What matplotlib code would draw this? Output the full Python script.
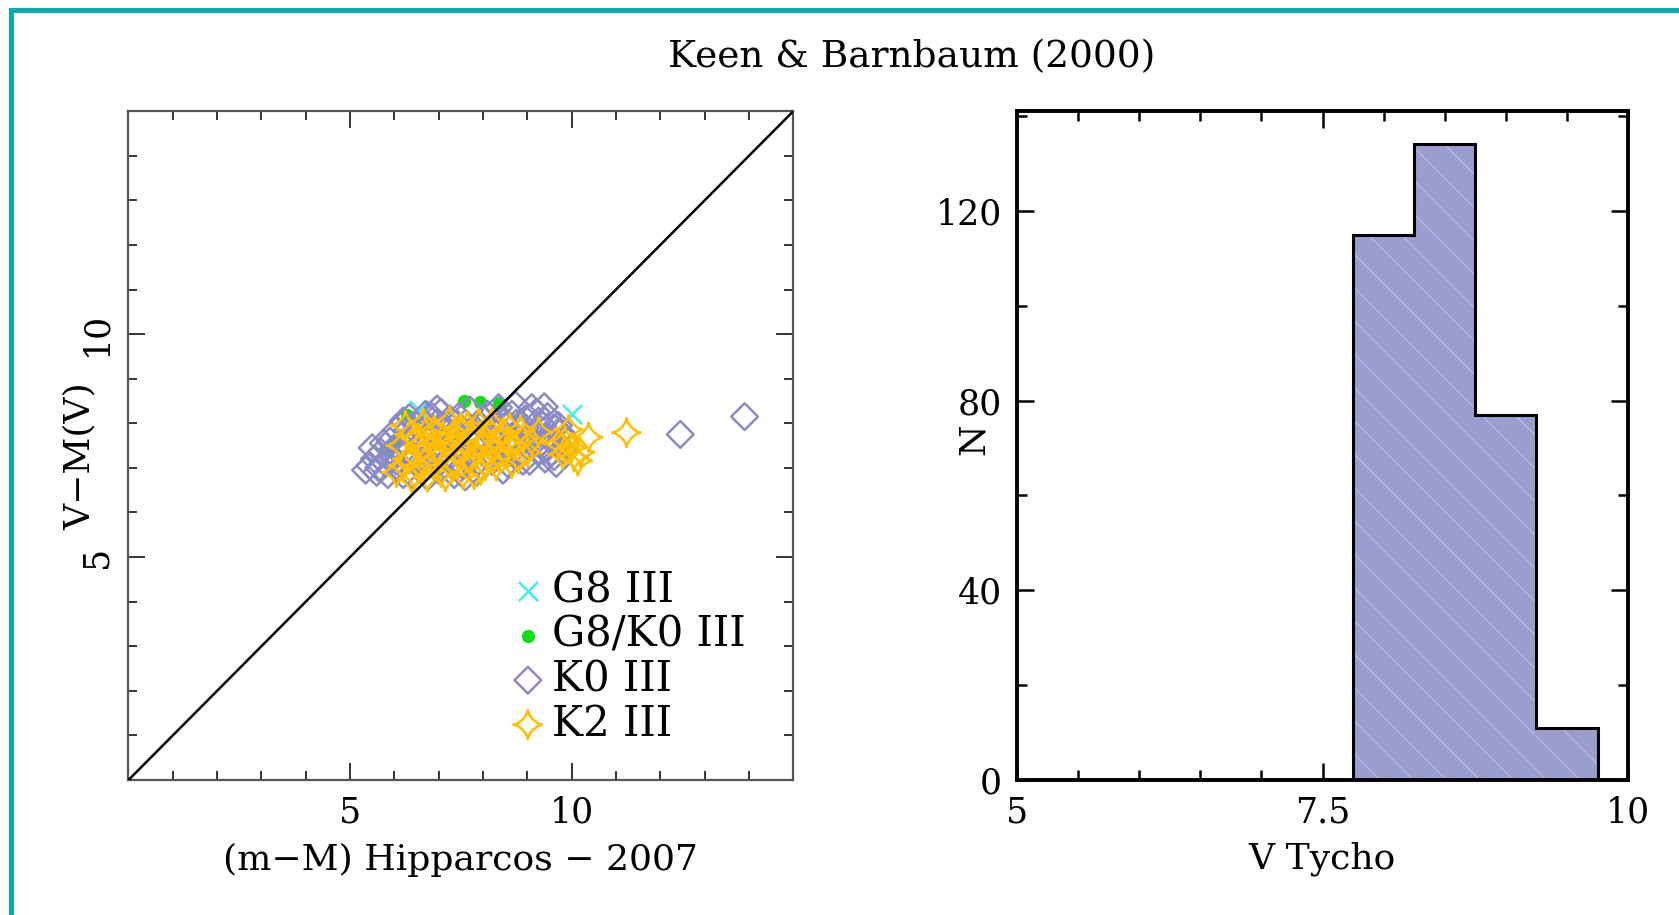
import numpy as np
import matplotlib
matplotlib.use('Agg')
import matplotlib.pyplot as plt
from matplotlib.path import Path
from matplotlib.lines import Line2D
from matplotlib.ticker import MultipleLocator

# V - M(V) against Hipparcos (2007) distance modulus, by spectral class
g8_x = [6.55, 10.0]
g8_y = [8.30, 8.20]

g8k0_x = [6.29, 7.56, 7.92, 8.37, 5.79, 6.00]
g8k0_y = [8.18, 8.50, 8.47, 8.45, 7.40, 7.55]

k0_x = [5.35, 5.45, 5.55, 5.60, 5.70, 5.80, 5.90, 6.00, 6.05, 6.10,
        6.20, 6.25, 6.34, 6.35, 6.40, 6.50, 6.55, 6.60, 6.70, 6.75,
        6.80, 6.90, 6.95, 6.96, 7.00, 7.05, 7.15, 7.20, 7.30, 7.35,
        7.45, 7.50, 7.55, 7.65, 7.70, 7.80, 7.85, 7.95, 8.05, 8.10,
        8.20, 8.25, 8.35, 8.40, 8.50, 8.55, 8.65, 8.70, 8.73, 8.80,
        8.85, 8.95, 9.00, 9.05, 9.15, 9.20, 9.25, 9.35, 9.38, 9.40,
        9.45, 9.50, 9.55, 9.60, 9.65, 9.70, 9.75, 12.45, 13.90,
        5.50, 5.65, 5.75, 5.85, 5.95, 6.05, 6.15, 6.30, 6.45, 6.60,
        6.65, 6.85, 6.85, 7.10, 7.10, 7.25, 7.40, 7.60, 7.75, 7.90,
        8.00, 8.15, 8.30, 8.45, 8.60, 8.75, 8.90, 9.10, 9.30, 9.45,
        9.60, 9.70, 9.80, 9.10, 8.95, 9.25, 6.20, 7.60, 8.45, 9.85]
k0_y = [6.95, 7.05, 7.20, 6.90, 7.35, 7.10, 7.60, 7.45, 7.85, 7.00,
        8.05, 7.30, 8.13, 7.70, 6.85, 7.95, 7.50, 7.15, 8.20, 6.80,
        7.75, 7.40, 8.00, 8.32, 6.95, 8.25, 7.60, 7.20, 7.90, 6.85,
        8.15, 7.45, 7.05, 7.75, 8.30, 7.30, 6.90, 7.95, 7.55, 8.20,
        7.15, 7.80, 8.35, 7.40, 7.95, 7.10, 8.20, 7.60, 8.41, 7.85,
        7.30, 8.10, 7.50, 7.15, 7.80, 8.25, 7.40, 7.95, 8.37, 7.20,
        8.15, 7.65, 7.35, 7.90, 7.10, 7.55, 7.80, 7.75, 8.15,
        7.45, 7.00, 7.55, 6.85, 7.25, 7.15, 7.55, 7.85, 7.20, 7.85,
        6.95, 7.10, 8.15, 7.35, 7.95, 8.10, 7.70, 8.00, 7.55, 7.15,
        8.10, 7.35, 7.60, 8.05, 7.45, 8.00, 7.15, 7.65, 7.55, 7.45,
        7.25, 7.95, 7.40, 8.35, 7.90, 8.05, 6.85, 6.80, 6.95, 7.65]

k2_x = [6.05, 6.15, 6.25, 6.30, 6.45, 6.50, 6.60, 6.65, 6.75, 6.80,
        6.85, 6.90, 7.00, 7.05, 7.10, 7.20, 7.25, 7.30, 7.40, 7.45,
        7.50, 7.55, 7.60, 7.70, 7.75, 7.85, 7.90, 7.95, 8.00, 8.10,
        8.15, 8.25, 8.30, 8.40, 8.50, 8.60, 8.70, 8.80, 8.90, 9.70,
        9.80, 9.93, 10.00, 10.14, 10.38, 10.05, 11.24,
        6.20, 6.35, 6.40, 6.55, 6.70, 6.95, 7.15, 7.35, 7.65, 7.80,
        8.05, 8.20, 8.35, 8.55, 8.65, 8.85, 9.00, 9.10, 9.25, 7.55,
        7.15, 6.55, 7.95, 8.45, 9.85, 10.20]
k2_y = [6.90, 7.50, 7.95, 7.20, 6.85, 7.65, 7.35, 8.00, 6.80, 7.10,
        7.55, 7.85, 7.25, 6.90, 7.70, 7.45, 8.05, 7.00, 7.60, 7.25,
        7.90, 6.85, 7.50, 7.15, 7.75, 7.35, 8.00, 6.95, 7.60, 7.25,
        7.85, 7.45, 7.05, 7.70, 7.35, 7.90, 7.50, 7.20, 7.65, 7.55,
        7.30, 7.86, 7.45, 7.16, 7.69, 7.25, 7.79,
        7.05, 7.75, 6.75, 7.05, 7.80, 7.40, 6.80, 7.80, 7.95, 6.85,
        7.05, 8.00, 7.25, 7.60, 7.10, 7.85, 7.35, 7.60, 7.80, 7.40,
        7.55, 7.50, 7.45, 7.80, 7.60, 7.35]

# V Tycho histogram
v_edges = [7.75, 8.25, 8.75, 9.25, 9.75]
v_counts = [115, 134, 77, 11]

plt.rcParams['font.family'] = 'DejaVu Serif'
plt.rcParams['hatch.linewidth'] = 0.9

fig = plt.figure(figsize=(16.79, 9.15), dpi=100)
ax1 = fig.add_axes([0.0765, 0.1475, 0.396, 0.731])
ax2 = fig.add_axes([0.6057, 0.1475, 0.364, 0.731])

# four-pointed star marker
t = np.linspace(0, 2 * np.pi, 41)
star = Path(np.column_stack([np.cos(t) ** 3, np.sin(t) ** 3]))

lav = '#8a8ac6'
orange = '#ffbe00'

ax1.plot([0, 15], [0, 15], color='k', lw=1.8, zorder=5)
ax1.scatter(g8_x, g8_y, marker='x', s=190, color='#40eef0', lw=1.8, label='G8 III', zorder=2)
ax1.scatter(g8k0_x, g8k0_y, marker='o', s=90, color='#10e010', lw=0, label='G8/K0 III', zorder=2)
ax1.scatter(k0_x, k0_y, marker='D', s=185, facecolors='none', edgecolors=lav, lw=1.8,
            label='K0 III', zorder=3)
ax1.scatter(k2_x, k2_y, marker=star, s=440, facecolors='none', edgecolors=orange, lw=1.8,
            label='K2 III', zorder=4)

ax1.set_xlim(0, 15)
ax1.set_ylim(0, 15)
ax1.set_xticks([5, 10])
ax1.set_yticks([5, 10])
ax1.xaxis.set_minor_locator(MultipleLocator(1))
ax1.yaxis.set_minor_locator(MultipleLocator(1))
ax1.tick_params(which='both', direction='in', top=True, right=True, labelsize=25,
                color='#333333', width=1.4)
ax1.tick_params(which='major', length=12, pad=11)
ax1.tick_params(which='minor', length=6.5)
for lab in ax1.get_yticklabels():
    lab.set_rotation(90)
    lab.set_va('center')
for sp in ax1.spines.values():
    sp.set_color('#555555')
    sp.set_linewidth(1.6)
ax1.set_xlabel('(m\u2212M) Hipparcos \u2212 2007', fontsize=26, va='center')
ax1.xaxis.set_label_coords(0.5, -0.12)
ax1.set_ylabel('V\u2212M(V)', fontsize=26, va='center')
ax1.yaxis.set_label_coords(-0.073, 0.485)

leg = ax1.legend(loc='lower left', bbox_to_anchor=(0.571, 0.053), frameon=False,
                 fontsize=30, handletextpad=0.1, labelspacing=0.06, borderaxespad=0,
                 borderpad=0, handlelength=0.95)

# histogram: hatched fill, then black outline
ax2.stairs(v_counts, v_edges, fill=True, facecolor='#9c9dcf', edgecolor='#b9bae0',
           hatch='\\', lw=0, zorder=2)
ax2.stairs(v_counts, v_edges, color='k', lw=2.2, zorder=3)
ax2.set_xlim(5, 10)
ax2.set_ylim(0, 141)
ax2.set_xticks([5, 7.5, 10], ['5', '7.5', '10'])
ax2.set_yticks([0, 40, 80, 120])
ax2.xaxis.set_minor_locator(MultipleLocator(0.5))
ax2.yaxis.set_minor_locator(MultipleLocator(20))
ax2.tick_params(which='both', direction='in', top=True, right=True, labelsize=25,
                width=1.8)
ax2.tick_params(which='major', length=12, pad=11)
ax2.tick_params(which='minor', length=7)
for sp in ax2.spines.values():
    sp.set_linewidth(2.8)
ax2.set_xlabel('V Tycho', fontsize=26, va='center')
ax2.xaxis.set_label_coords(0.5, -0.118)
ax2.set_ylabel('N', fontsize=26, va='center')
ax2.yaxis.set_label_coords(-0.07, 0.51)

fig.text(0.543, 0.938, 'Keen & Barnbaum (2000)', ha='center', va='center', fontsize=27)

# teal frame along top and left edges
frame = '#10a9a9'
fig.add_artist(Line2D([10.5 / 1679, 1.0], [1 - 9.5 / 915, 1 - 9.5 / 915], color=frame, lw=3.6))
fig.add_artist(Line2D([10.5 / 1679, 10.5 / 1679], [0.0, 1 - 9.5 / 915], color=frame, lw=3.6))

fig.savefig('out.png', dpi=100)
